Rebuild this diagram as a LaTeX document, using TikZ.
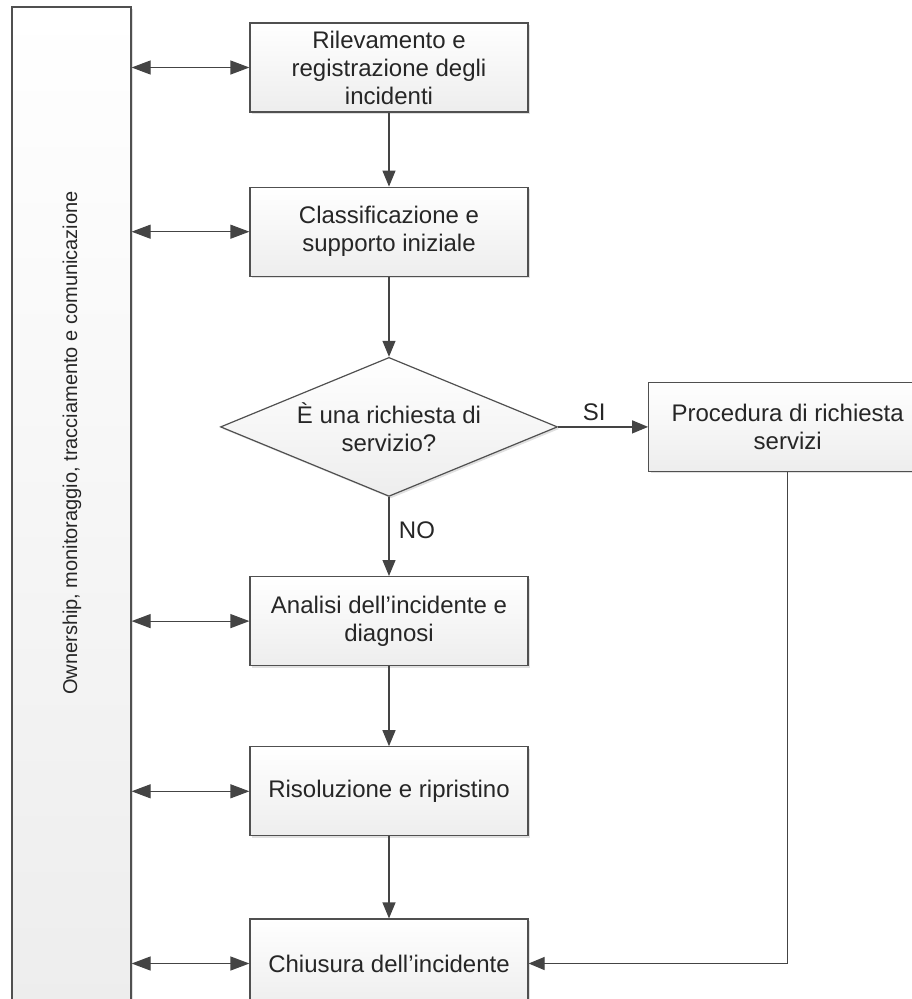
\documentclass[tikz,border=0pt]{standalone}
\usepackage{fontspec}
\setmainfont{Liberation Sans}
\usepackage{tikz}
\usetikzlibrary{shapes.geometric, arrows.meta, positioning, calc, shadows}

\definecolor{edgegray}{HTML}{505050}
\definecolor{linegray}{HTML}{444444}

\begin{document}
\begin{tikzpicture}[
    x=1pt, y=-1pt,
    font=\fontsize{24}{28}\selectfont,
    process/.style={rectangle, draw=edgegray, line width=1.2pt, top color=white, bottom color=gray!14,
        minimum width=278pt, minimum height=89pt, inner sep=0pt, align=center, text=black!85,
        drop shadow={shadow xshift=2pt, shadow yshift=-2pt, fill=black, opacity=0.12}},
    decision/.style={diamond, aspect=2.42, draw=edgegray, line width=1.2pt, top color=white, bottom color=gray!14,
        minimum width=337pt, minimum height=139pt, inner sep=0pt, align=center, text=black!85,
        drop shadow={shadow xshift=2pt, shadow yshift=-2pt, fill=black, opacity=0.12}},
    bar/.style={process, minimum width=119pt, minimum height=996pt},
    arrow/.style={line width=1.2pt, draw=linegray, -{Triangle[length=16pt, width=13pt]}},
    biarrow/.style={line width=1.2pt, draw=linegray, {Triangle[length=19pt, width=14pt]}-{Triangle[length=19pt, width=14pt]}}
]
    \useasboundingbox (0,0) rectangle (912,999);
    \clip (0,0) rectangle (912,999);

    % tall bar on the left
    \node[bar] (bar) at (71.5,505) {};
    \node[rotate=90, text=black!85, font=\fontsize{20}{24}\selectfont] (barlabel) at (72,443) {Ownership, monitoraggio, tracciamento e comunicazione};

    % main flow
    \node[process] (detect) at (389,67.5) {Rilevamento e\\registrazione degli\\incidenti};
    \node[process, below=74pt of detect] (classify) {Classificazione e\\supporto iniziale};
    \node[decision, below=80pt of classify] (request) {È una richiesta di\\servizio?};
    \node[process, right=90pt of request] (service) {Procedura di richiesta\\servizi};
    \node[process, below=79pt of request] (analysis) {Analisi dell'incidente e\\diagnosi};
    \node[process, below=80pt of analysis] (resolve) {Risoluzione e ripristino};
    \node[process, below=82pt of resolve] (closure) {Chiusura dell'incidente};

    \draw[arrow] (detect) -- (classify);
    \draw[arrow] (classify) -- (request);
    \draw[arrow] (request) -- node[above=2pt, pos=0.4, text=black!85] {SI} (service);
    \draw[arrow] (request) -- node[right=6pt, pos=0.42, text=black!85] {NO} (analysis);
    \draw[arrow] (analysis) -- (resolve);
    \draw[arrow] (resolve) -- (closure);
    \draw[arrow] (service.south) |- (closure.east);

    % links to the bar
    \draw[biarrow] (bar.east |- detect.west) -- (detect.west);
    \draw[biarrow] (bar.east |- classify.west) -- (classify.west);
    \draw[biarrow] (bar.east |- analysis.west) -- (analysis.west);
    \draw[biarrow] (bar.east |- resolve.west) -- (resolve.west);
    \draw[biarrow] (bar.east |- closure.west) -- (closure.west);

\end{tikzpicture}
\end{document}
